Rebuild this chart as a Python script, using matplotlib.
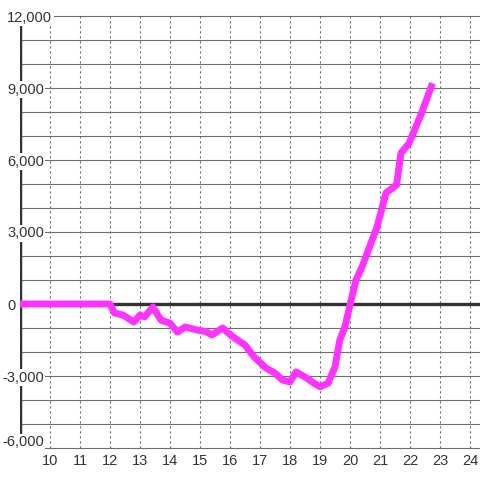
import matplotlib.pyplot as plt
import matplotlib.transforms as mtransforms

# values
x_vals = [9.0, 12.0, 12.15, 12.43, 12.8, 13.0, 13.15, 13.43, 13.7, 14.0, 14.25,
          14.5, 14.9, 15.2, 15.4, 15.75, 16.1, 16.5, 16.8, 17.2, 17.5, 17.75,
          18.0, 18.2, 18.55, 18.8, 19.0, 19.27, 19.5, 19.66, 19.83, 20.0, 20.2,
          20.4, 20.9, 21.2, 21.55, 21.7, 21.97, 22.4, 22.75]
y_vals = [0, 0, -375, -460, -750, -460, -540, -125, -670, -800, -1170,
          -960, -1080, -1150, -1290, -1000, -1370, -1710, -2200, -2670, -2880, -3170,
          -3250, -2830, -3080, -3300, -3450, -3300, -2620, -1500, -960, -40, 1000,
          1540, 3210, 4630, 4960, 6290, 6700, 8000, 9200]

x_ticks = list(range(10, 25))
y_grid = list(range(-6000, 12001, 1000))
y_labels = [-6000, -3000, 0, 3000, 6000, 9000, 12000]

plt.rcParams['font.family'] = ['Liberation Sans', 'DejaVu Sans']

fig = plt.figure(figsize=(4.8, 4.8), dpi=100)
ax = fig.add_axes([20 / 480, 32 / 480, 460 / 480, 432 / 480])
ax.set_xlim(9, 24.333)
ax.set_ylim(-6000, 12000)
for s in ax.spines.values():
    s.set_visible(False)

for v in y_grid:
    ax.axhline(v, color='#6e6e6e', lw=0.8, zorder=1, clip_on=False)
for v in x_ticks:
    ax.axvline(v, color='#6e6e6e', lw=0.8, ls=(0, (2, 2.5)), zorder=1)

ax.axhline(0, color='#333333', lw=2.4, zorder=2)
ax.axvline(9, color='#333333', lw=2.5, zorder=2)

ax.plot(x_vals, y_vals, color='#ff33ff', lw=5, solid_joinstyle='round',
        solid_capstyle='butt', zorder=5, clip_on=False)

ax.set_yticks([])
ax.set_xticks(x_ticks)
ax.set_xticklabels([str(t) for t in x_ticks])
ax.tick_params(axis='x', length=0, pad=4, labelsize=10.5, labelcolor='#333333')

for v in y_labels:
    off = -18 if v < 0 else -13
    dy = 7 if v == y_labels[0] else 0
    tr = mtransforms.offset_copy(ax.get_yaxis_transform(), fig=fig, x=off, y=dy, units='dots')
    ax.text(0, v, f"{v:,}", transform=tr, ha='left',
            va='center_baseline', fontsize=10.5, color='#333333', zorder=4,
            bbox=dict(facecolor='white', edgecolor='none', pad=1.2), clip_on=False)

fig.savefig('out.png', dpi=100)
